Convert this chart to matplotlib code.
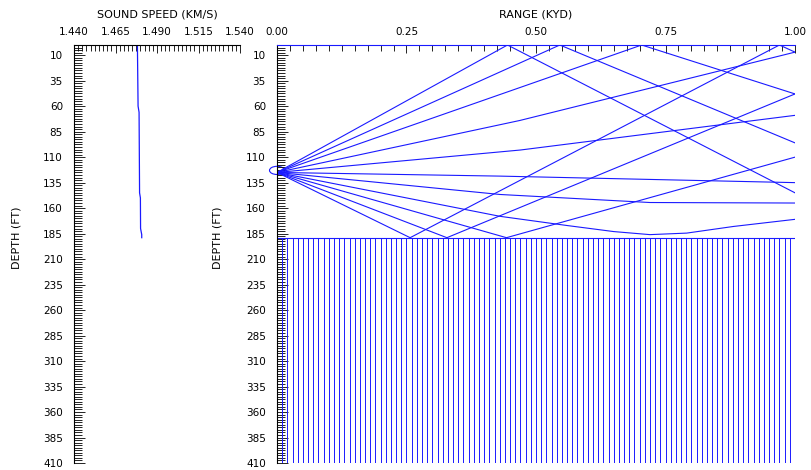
import numpy as np
import matplotlib
matplotlib.use('Agg')
import matplotlib.pyplot as plt
from matplotlib.patches import Ellipse
from matplotlib.ticker import MultipleLocator, FixedLocator, FormatStrFormatter

# Sound speed profile (depth in ft, speed in km/s)
svp_depth = [0, 60, 66, 145, 150, 180, 186, 189]
svp_speed = [1.4782, 1.4786, 1.4792, 1.4795, 1.4800, 1.4801, 1.4808, 1.4808]
speed_ticks = [1.440, 1.465, 1.490, 1.515, 1.540]

# Environment
source_range = 0.0
source_depth = 125
bottom_depth = 189
max_depth = 410
max_range = 1.0

# Ray paths: turning points as (range kyd, depth ft)
ray_u1_r = [0.0, 0.445, 1.0]
ray_u1_d = [125, 0, 145]
ray_u2_r = [0.0, 0.546, 1.0]
ray_u2_d = [125, 0, 96]
ray_u3_r = [0.0, 0.704, 1.0]
ray_u3_d = [125, 0, 48]
ray_u4_r = [0.0, 0.469, 1.0]
ray_u4_d = [125, 74, 7]
ray_h1_r = [0.0, 0.47, 1.0]
ray_h1_d = [125, 103, 69]
ray_h2_r = [0.0, 0.43, 1.0]
ray_h2_d = [125, 128.6, 135]
ray_h3_r = [0.0, 0.43, 0.72, 1.0]
ray_h3_d = [125, 146.6, 154.5, 155]
ray_h4_r = [0.0, 0.43, 0.559, 0.65, 0.72, 0.791, 0.881, 1.0]
ray_h4_d = [125, 168, 177, 183, 186, 184.5, 178, 171]
ray_d1_r = [0.0, 0.257, 0.97, 1.0]
ray_d1_d = [125, 189, 0, 7]
ray_d2_r = [0.0, 0.328, 1.0]
ray_d2_d = [125, 189, 48]
ray_d3_r = [0.0, 0.443, 1.0]
ray_d3_d = [125, 189, 110]

rays = [(ray_u1_r, ray_u1_d), (ray_u2_r, ray_u2_d), (ray_u3_r, ray_u3_d),
        (ray_u4_r, ray_u4_d), (ray_h1_r, ray_h1_d), (ray_h2_r, ray_h2_d),
        (ray_h3_r, ray_h3_d), (ray_h4_r, ray_h4_d), (ray_d1_r, ray_d1_d),
        (ray_d2_r, ray_d2_d), (ray_d3_r, ray_d3_d)]

depth_ticks = np.arange(10, max_depth + 1, 25)
blue = '#1a1aff'
fs = 7.5

fig = plt.figure(figsize=(8.12, 4.70), dpi=100)

def style_axes(ax):
    ax.set_ylim(max_depth, 0)
    ax.yaxis.set_major_locator(FixedLocator(depth_ticks))
    ax.yaxis.set_minor_locator(MultipleLocator(2.5))
    ax.xaxis.tick_top()
    ax.xaxis.set_label_position('top')
    ax.spines['bottom'].set_visible(False)
    ax.spines['right'].set_visible(False)
    ax.spines['left'].set_linewidth(0.8)
    ax.spines['top'].set_linewidth(0.8)
    ax.tick_params(axis='y', which='major', direction='in', length=8, width=0.6, pad=8, labelsize=fs)
    ax.tick_params(axis='y', which='minor', direction='in', length=5.5, width=0.6)
    ax.tick_params(axis='x', which='major', direction='in', length=6, width=0.6, pad=6, labelsize=fs)
    ax.tick_params(axis='x', which='minor', direction='in', length=4, width=0.6)
    ax.set_facecolor('none')

# Sound speed panel
ax1 = fig.add_axes([74/812, 7/470, 166/812, 418/470])
ax1.plot(svp_speed, svp_depth, color=blue, lw=0.9)
ax1.set_xlim(speed_ticks[0], speed_ticks[-1])
ax1.xaxis.set_major_locator(FixedLocator(speed_ticks))
ax1.xaxis.set_minor_locator(MultipleLocator(0.0025))
ax1.xaxis.set_major_formatter(FormatStrFormatter('%.3f'))
style_axes(ax1)
ax1.set_title('SOUND SPEED (KM/S)', fontsize=8, pad=20)

# Ray trace panel
ax2 = fig.add_axes([277/812, 7/470, 518/812, 418/470])
for r, d in rays:
    ax2.plot(r, d, color=blue, lw=0.8)
ax2.vlines(np.linspace(0, max_range, 101), bottom_depth, max_depth, color=blue, lw=0.7)
ax2.hlines(bottom_depth, 0, max_range, color=blue, lw=0.8)
ax2.add_patch(Ellipse((source_range, source_depth - 2), 0.029, 8, fill=False,
                      edgecolor=blue, lw=0.8, clip_on=False))
ax2.set_xlim(0, max_range)
ax2.xaxis.set_major_locator(MultipleLocator(0.25))
ax2.xaxis.set_minor_locator(MultipleLocator(0.025))
ax2.xaxis.set_major_formatter(FormatStrFormatter('%.2f'))
style_axes(ax2)
ax2.spines['top'].set_color(blue)
ax2.set_title('RANGE (KYD)', fontsize=8, pad=20)

fig.text(17/812, 0.494, 'DEPTH (FT)', rotation=90, ha='center', va='center', fontsize=8)
fig.text(218/812, 0.494, 'DEPTH (FT)', rotation=90, ha='center', va='center', fontsize=8)

fig.savefig('out.png', dpi=100)
